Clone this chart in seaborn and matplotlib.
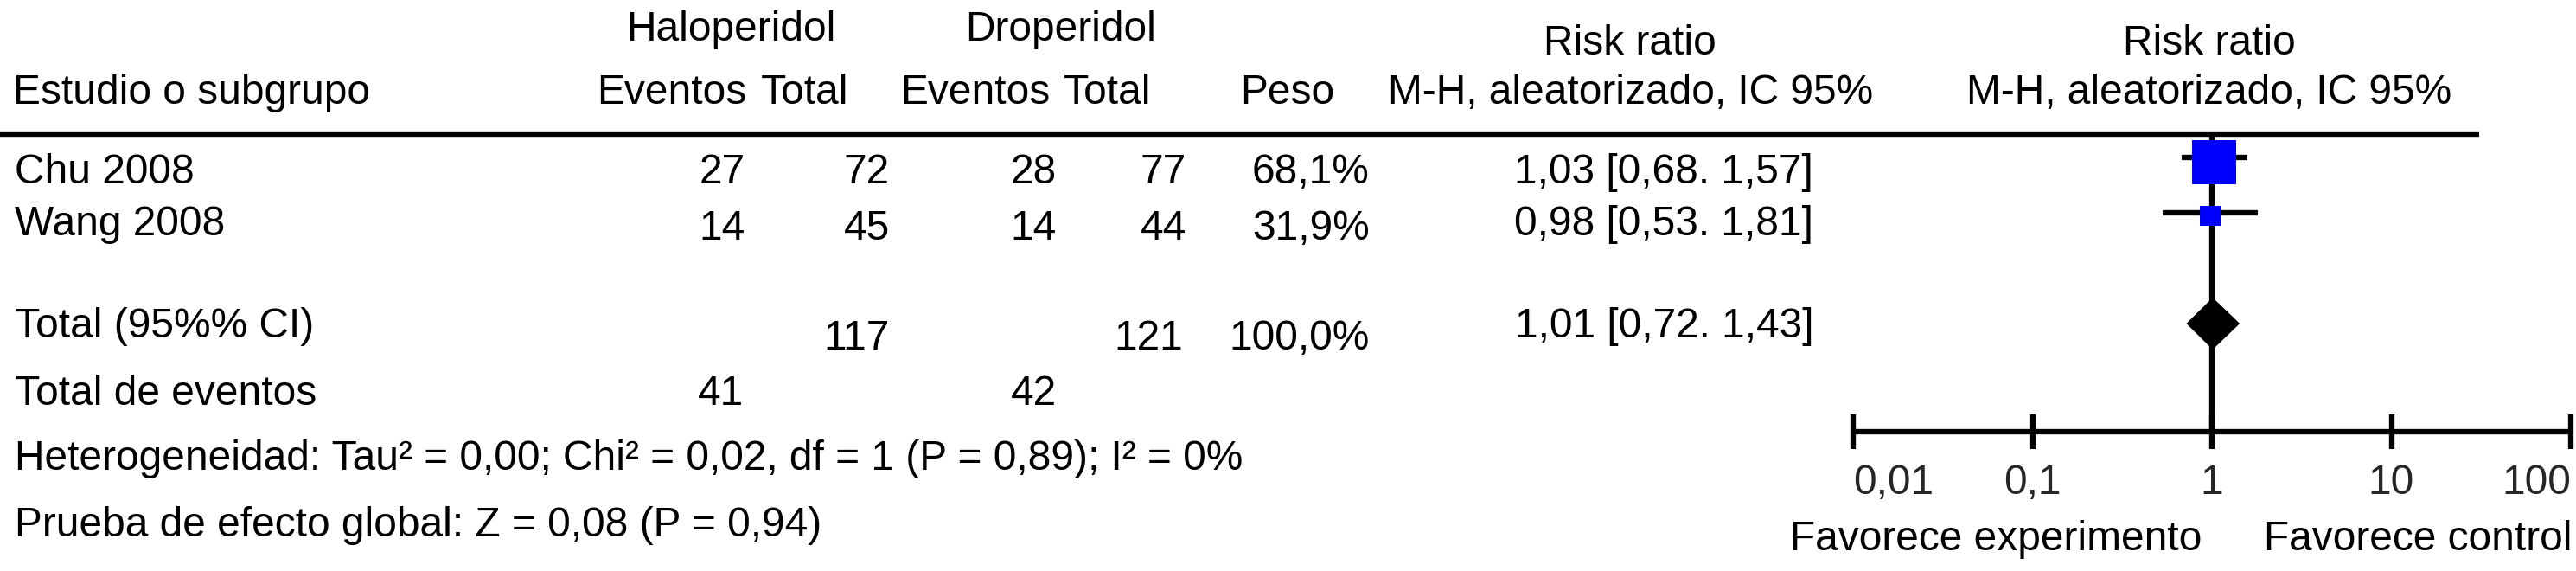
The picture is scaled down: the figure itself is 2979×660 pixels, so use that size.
import matplotlib
matplotlib.use("Agg")
import matplotlib.pyplot as plt
from matplotlib.patches import Polygon
import seaborn as sns
import pandas as pd

# ---------------- data ----------------
studies = ["Chu 2008", "Wang 2008"]
halo_events = [27, 14]
halo_total = [72, 45]
drop_events = [28, 14]
drop_total = [77, 44]
weights = [68.1, 31.9]
rr = [1.03, 0.98]
ci_low = [0.68, 0.53]
ci_high = [1.57, 1.81]

pooled_rr = 1.01
pooled_low = 0.72
pooled_high = 1.43
total_halo = 117
total_drop = 121
total_weight = 100.0
events_halo = 41
events_drop = 42

ticks = [0.01, 0.1, 1, 10, 100]
tick_labels = ["0,01", "0,1", "1", "10", "100"]

heterog_text = "Heterogeneidad: Tau² = 0,00; Chi² = 0,02, df = 1 (P = 0,89); I² = 0%"
overall_text = "Prueba de efecto global: Z = 0,08 (P = 0,94)"


def fmt(v, d=2):
    return f"{v:.{d}f}".replace(".", ",")


def ci_str(m, lo, hi):
    return f"{fmt(m)} [{fmt(lo)}. {fmt(hi)}]"


# ---------------- style ----------------
sns.set_theme(style="white")
plt.rcParams["font.family"] = ["Liberation Sans", "DejaVu Sans"]

W, H = 2979, 660
FS = 34.5
PX = 0.72  # points per pixel at dpi 100
LW = 6.3 * PX

fig = plt.figure(figsize=(W / 100, H / 100), dpi=100)
fig.patch.set_facecolor("white")

# full-figure axes in pixel coordinates for the table text
tax = fig.add_axes([0, 0, 1, 1])
tax.set_xlim(0, W)
tax.set_ylim(H, 0)
tax.axis("off")


def t(x, y, s, ha="left"):
    tax.text(x, y, s, ha=ha, va="baseline", fontsize=FS, color="black")


# headers
t(845, 47, "Haloperidol", "center")
t(1227, 47, "Droperidol", "center")
t(1885, 63, "Risk ratio", "center")
t(2555, 63, "Risk ratio", "center")
t(15, 120, "Estudio o subgrupo")
t(690, 120, "Eventos")
t(880, 120, "Total")
t(1041, 120, "Eventos")
t(1230, 120, "Total")
t(1434, 120, "Peso")
t(1886, 120, "M-H, aleatorizado, IC 95%", "center")
t(2555, 120, "M-H, aleatorizado, IC 95%", "center")

tax.plot([0, 2867], [155, 155], color="black", lw=LW, solid_capstyle="butt")

# study rows
name_y = [212, 272]
num_y = [212, 277]
for i, s in enumerate(studies):
    t(17, name_y[i], s)
    t(862, num_y[i], str(halo_events[i]), "right")
    t(1029, num_y[i], str(halo_total[i]), "right")
    t(1222, num_y[i], str(drop_events[i]), "right")
    t(1372, num_y[i], str(drop_total[i]), "right")
    t(1584, num_y[i], fmt(weights[i], 1) + "%", "right")
    t(2097, name_y[i], ci_str(rr[i], ci_low[i], ci_high[i]), "right")

# total rows
t(17, 390, "Total (95%% CI)")
t(1029, 404, str(total_halo), "right")
t(1368, 404, str(total_drop), "right")
t(1584, 404, fmt(total_weight, 1) + "%", "right")
t(2097, 390, ci_str(pooled_rr, pooled_low, pooled_high), "right")

t(17, 468, "Total de eventos")
t(860, 468, str(events_halo), "right")
t(1222, 468, str(events_drop), "right")

t(17, 543, heterog_text)
t(17, 620, overall_text)

t(2546, 636, "Favorece experimento", "right")
t(2974, 636, "Favorece control", "right")

# ---------------- forest axes ----------------
x0, x1 = 2143, 2973
y_top, y_axis = 155, 499
fax = fig.add_axes([x0 / W, (H - y_axis) / H, (x1 - x0) / W, (y_axis - y_top) / H])
fax.set_xscale("log")
fax.set_xlim(ticks[0], ticks[-1])
fax.set_ylim(y_axis, y_top)
fax.patch.set_alpha(0)
for side in ["top", "left", "right"]:
    fax.spines[side].set_visible(False)
fax.spines["bottom"].set_linewidth(LW)
fax.spines["bottom"].set_color("black")
fax.spines["bottom"].set_capstyle("butt")
fax.set_yticks([])
fax.set_xticks(ticks)
fax.set_xticklabels(tick_labels)
fax.minorticks_off()
fax.tick_params(axis="x", which="major", direction="inout", length=40 * PX,
                width=LW, color="black", labelsize=FS, pad=12, bottom=True)
labs = fax.get_xticklabels()
labs[0].set_ha("left")
labs[-1].set_ha("right")
fax.grid(False)

# line of no effect
fax.axvline(1, color="black", lw=LW, zorder=1)

# CI lines
ci_y = [182, 246]
fax.hlines(ci_y, ci_low, ci_high, color="black", lw=LW, zorder=2)

# squares (side proportional to weight)
sq_y = [187.5, 249.5]
df = pd.DataFrame({"study": studies, "rr": rr, "y": sq_y, "w": weights})
sizes = {s: (0.75 * w * PX) ** 2 for s, w in zip(studies, weights)}
sns.scatterplot(data=df, x="rr", y="y", size="study", sizes=sizes, marker="s",
                color="#0000FF", linewidth=0, legend=False, ax=fax, zorder=3,
                clip_on=False)
fax.set_xlabel("")
fax.set_ylabel("")

# pooled diamond
dy = 374
diamond = Polygon([(pooled_low, dy), (pooled_rr, dy - 30), (pooled_high, dy),
                   (pooled_rr, dy + 30)], closed=True, facecolor="black",
                  edgecolor="black", lw=0, zorder=3)
fax.add_patch(diamond)

fig.savefig("out.png", dpi=100, facecolor="white")
